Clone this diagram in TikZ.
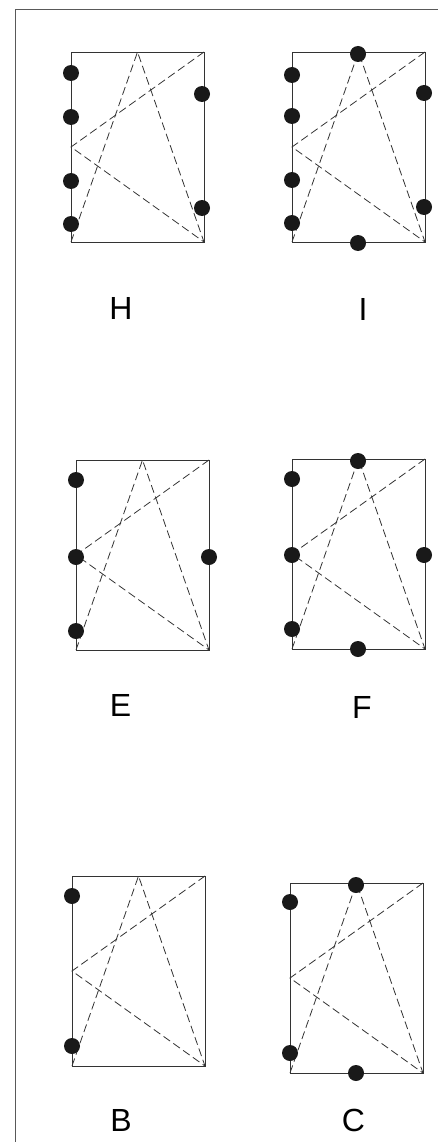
\documentclass[tikz,border=0pt]{standalone}
\usepackage{fontspec}
\setmainfont{Liberation Sans}
\usetikzlibrary{calc}

\tikzset{
  frame/.style={draw=black!65, line width=0.9pt},
  edge/.style={draw=black!80, line width=0.9pt},
  diag/.style={draw=black!80, line width=0.8pt, dash pattern=on 8pt off 4pt},
  dot/.style={circle, fill=black!90, inner sep=0pt, minimum size=16pt},
  lbl/.style={font=\fontsize{32}{32}\selectfont, inner sep=0pt}
}

% one window: name, left x, top y (box is 133 x 190)
\newcommand{\pane}[3]{%
  \coordinate (#1-nw) at (#2,#3);
  \coordinate (#1-ne) at ($(#1-nw)+(133,0)$);
  \coordinate (#1-sw) at ($(#1-nw)+(0,190)$);
  \coordinate (#1-se) at ($(#1-nw)+(133,190)$);
  \coordinate (#1-n) at ($(#1-nw)!0.5!(#1-ne)$);
  \coordinate (#1-w) at ($(#1-nw)!0.5!(#1-sw)$);
  \draw[edge] (#1-nw) rectangle (#1-se);
  \draw[diag] (#1-sw) -- (#1-n) -- (#1-se);
  \draw[diag] (#1-ne) -- (#1-w) -- (#1-se);
}

\begin{document}
\begin{tikzpicture}[x=1pt,y=-1pt]
  \useasboundingbox (0,0) rectangle (438,1142);
  \draw[frame] (15,1142) -- (15,9) -- (438,9);

  % top row
  \pane{H}{71}{52}
  \pane{I}{292}{52}
  \foreach \y in {73,117,181,224} {\node[dot] at (71,\y) {};}
  \foreach \y in {94,208} {\node[dot] at (202,\y) {};}
  \foreach \y in {75,116,180,223} {\node[dot] at (292,\y) {};}
  \foreach \y in {93,207} {\node[dot] at (424,\y) {};}
  \node[dot] (i-top) at (358,54) {};
  \node[dot] (i-bot) at (358,243) {};
  \node[lbl] (labH) at (121,308.5) {H};
  \node[lbl] (labI) at (363,309) {I};

  % middle row
  \pane{E}{76}{460}
  \pane{F}{292}{459}
  \foreach \y in {480,557,631} {\node[dot] at (76,\y) {};}
  \node[dot] (e-r) at (209,557) {};
  \foreach \y in {479,555,629} {\node[dot] at (292,\y) {};}
  \node[dot] (f-r) at (424,555) {};
  \node[dot] (f-top) at (358,461) {};
  \node[dot] (f-bot) at (358,649) {};
  \node[lbl] (labE) at (120.5,705.5) {E};
  \node[lbl] (labF) at (362,707.5) {F};

  % bottom row
  \pane{B}{72}{876}
  \pane{C}{290}{883}
  \foreach \y in {896,1046} {\node[dot] at (72,\y) {};}
  \foreach \y in {902,1053} {\node[dot] at (290,\y) {};}
  \node[dot] (c-top) at (356,885) {};
  \node[dot] (c-bot) at (356,1073) {};
  \node[lbl] (labB) at (121,1120.5) {B};
  \node[lbl] (labC) at (353.5,1120.5) {C};
\end{tikzpicture}
\end{document}
